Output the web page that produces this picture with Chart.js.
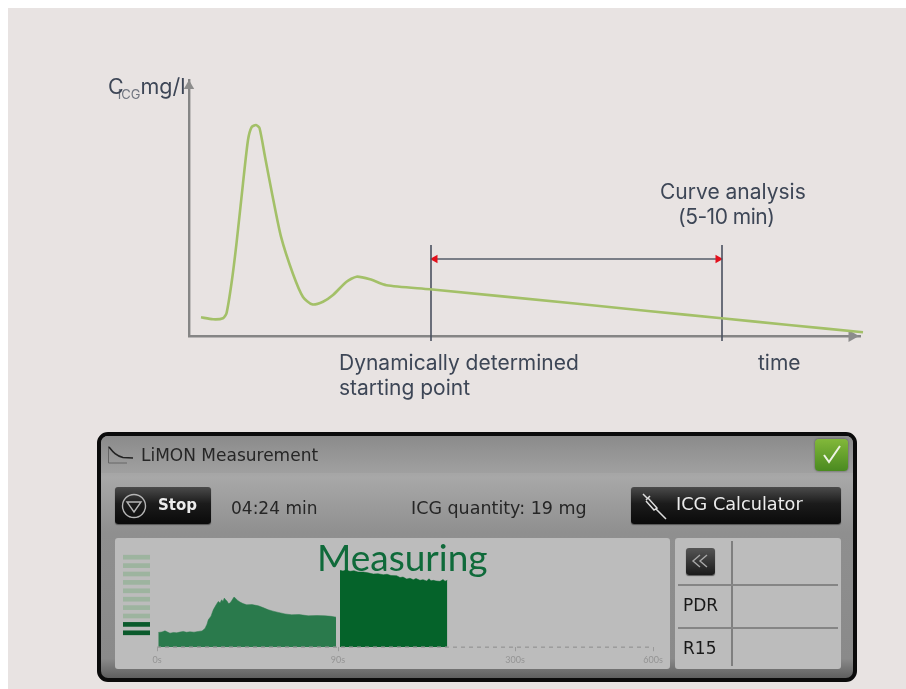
<!DOCTYPE html>
<html>
<head>
<meta charset="utf-8">
<title>LiMON curve</title>
<script src="https://cdn.jsdelivr.net/npm/chart.js@4/dist/chart.umd.min.js"></script>
<style>
html, body { margin: 0; padding: 0; background: #fff; }
#page { position: absolute; left: 0; top: 0; width: 906px; height: 689px; overflow: hidden; }
#bg { position: absolute; left: 8px; top: 8px; right: 0; bottom: 0; background: #e8e3e2; }
canvas { position: absolute; }
.t { position: absolute; white-space: nowrap; line-height: 1; filter: blur(0.3px); }
.top { font-family: Inter, sans-serif; color: #3d4656; font-size: 21px; }
.ui { font-family: "DejaVu Sans", sans-serif; color: #262626; font-size: 17px; }
.box { position: absolute; box-sizing: border-box; }
#frame { left: 97px; top: 432px; width: 760px; height: 250px; border: 4px solid #0b0b0b; border-radius: 11px;
  background: linear-gradient(#a6a6a6 16%, #a8a8a8 17%, #8f8f8f 40%, #8a8a8a 92%, #5f5f5f); }
#head { left: 101px; top: 436px; width: 752px; height: 37px; border-radius: 7px 7px 0 0;
  background: linear-gradient(#8b8b8b, #a0a0a0); }
.btn { border-radius: 3px; background: linear-gradient(#4b4b4b, #1b1b1b 45%, #0a0a0a); color: #ececec; box-shadow: 0 1px 1px #555; }
.panel { background: #bcbcbc; border-radius: 3px; }
</style>
</head>
<body>
<div id="page">
  <div id="bg"></div>

  <canvas id="curveChart" width="906" height="425" style="left:0;top:0"></canvas>
  <div class="t top" style="left:108px;top:76px;font-size:21.5px">C<sub style="font-size:13px;line-height:0;margin-left:-6px;opacity:.7">ICG</sub>mg/l</div>
  <div class="t top" style="left:660px;top:181px">Curve analysis</div>
  <div class="t top" style="left:678px;top:206px;letter-spacing:-0.5px">(5-10 min)</div>
  <div class="t top" style="left:339px;top:352px">Dynamically determined</div>
  <div class="t top" style="left:339px;top:377px">starting point</div>
  <div class="t top" style="left:758px;top:352px">time</div>

  <div class="box" id="frame"></div>
  <div class="box" id="head"></div>
  <svg class="box" style="left:107px;top:445px" width="28" height="20" fill="none" stroke="#222">
    <path d="M1.5 1V18H20" stroke="#666"/>
    <path d="M2 2 C6 7 9 11 16 12.5 L26 13" stroke-width="1.6"/>
  </svg>
  <div class="t ui" style="left:141px;top:447px">LiMON Measurement</div>
  <div class="box" style="left:815px;top:439px;width:33px;height:32px;border-radius:4px;background:linear-gradient(#82b83a,#4a8a20);box-shadow:0 0 2px #444"></div>
  <svg class="box" style="left:815px;top:439px" width="33" height="32" fill="none"><path d="M9 16 L14 23 L25 7" stroke="#eef3e4" stroke-width="2"/></svg>

  <div class="box btn" style="left:115px;top:487px;width:96px;height:37px"></div>
  <svg class="box" style="left:119px;top:491px" width="30" height="30" fill="none" stroke="#b5b5b5" stroke-width="1.4">
    <circle cx="15" cy="15" r="11.5"/><path d="M8 11 H22 L15 21 Z"/>
  </svg>
  <div class="t ui" style="left:158px;top:498px;color:#ececec;font-weight:bold;font-size:15px">Stop</div>
  <div class="t ui" style="left:231px;top:500px">04:24 min</div>
  <div class="t ui" style="left:411px;top:500px;font-size:17.5px">ICG quantity: 19 mg</div>
  <div class="box btn" style="left:631px;top:487px;width:210px;height:37px"></div>
  <svg class="box" style="left:640px;top:492px" width="28" height="28" fill="none" stroke="#ddd">
    <path d="M3 2 L8 7 M6 8 L10 4 M8 6 L17 16 L14 18 L6 9 M16 17 L26 27" stroke-width="1.5"/>
  </svg>
  <div class="t ui" style="left:676px;top:496px;color:#ececec;font-size:17.7px">ICG Calculator</div>

  <div class="box panel" style="left:115px;top:538px;width:555px;height:131px"></div>
  <div class="t" style="left:317px;top:538px;font-family:Lato,sans-serif;font-size:37px;color:#0f6a3a">Measuring</div>
  <canvas id="levelChart" width="27" height="84" style="left:123px;top:553px"></canvas>
  <canvas id="measureChart" width="555" height="131" style="left:115px;top:538px"></canvas>

  <div class="box panel" style="left:675px;top:538px;width:166px;height:131px"></div>
  <div class="box" style="left:731px;top:541px;width:2px;height:125px;background:#7f7f7f"></div>
  <div class="box" style="left:678px;top:584px;width:160px;height:2px;background:#858585"></div>
  <div class="box" style="left:678px;top:627px;width:160px;height:2px;background:#858585"></div>
  <div class="box btn" style="left:686px;top:548px;width:29px;height:27px;background:linear-gradient(#555,#1a1a1a)"></div>
  <svg class="box" style="left:686px;top:548px" width="29" height="27" fill="none" stroke="#a8a8a8" stroke-width="1.4">
    <path d="M14 7 L7 13 L14 19 M21 7 L14 13 L21 19"/>
  </svg>
  <div class="t ui" style="left:683px;top:597px;color:#1a1a1a">PDR</div>
  <div class="t ui" style="left:683px;top:640px;color:#1a1a1a">R15</div>
</div>

<script>
// indocyanine green curve, x and y in the picture's own units
const curveX = [12, 24, 34, 37.5, 42.5, 47.5, 54, 59, 62.5, 67, 70.5, 76, 83, 92, 104, 114, 123, 134, 144, 157.5, 167.5, 181, 197.5, 241, 386, 459, 532.7, 600, 674];
const curveY = [18.7, 16.7, 17.7, 22.7, 52.7, 92.7, 152.7, 196, 208.7, 211, 208, 179.3, 142.7, 99.3, 62, 39, 31.7, 34.3, 41, 54.3, 59.3, 56.7, 50.7, 46.7, 32.5, 25, 17.7, 11, 3.7];
const startX = [242, 242];
const endX = [533, 533];
const markerY = [-5, 91];
const rangeX = [246, 529];
const rangeY = [77, 77];
const axisEndX = [663];
const axisEndY = [0];
const axisTopX = [0];
const axisTopY = [250];

// LiMON screen: first 90 s and the measuring part after it
const tickPos = [0, 181, 358, 496];
const tickLabels = ['0s', '90s', '300s', '600s'];
const calibX = [1.3, 5, 8, 11, 13, 16.5, 19.7, 23, 26.3, 29.5, 33, 37, 41.3, 45, 48, 50, 51.3, 54, 56.3, 59, 61.3, 63, 64.7, 66, 67.3, 69, 70, 71.5, 73, 74.5, 75.7, 77, 78.7, 81, 83, 86, 89.7, 95, 101.3, 106, 111.3, 116, 121.3, 128, 134.7, 142, 151.3, 160, 168, 174, 179];
const calibY = [14.7, 15.2, 16.3, 14.8, 14, 14.7, 14.3, 15.1, 15.7, 14.9, 15.3, 15, 15.7, 16.2, 18.7, 23, 27.3, 31, 37.3, 42, 45.7, 44.2, 47.3, 45.5, 49, 46.8, 46, 43.5, 44, 46, 48, 50, 48.7, 46.3, 45, 43.5, 42.3, 42.5, 41.3, 39.5, 37.3, 36, 34.7, 33.2, 32.3, 32.6, 31.3, 31.6, 31.3, 30.8, 30];
const measureX = [183, 186, 189, 193, 197, 201, 206.3, 211, 216.3, 221, 226.3, 230, 234, 239.7, 243, 246, 249.7, 253, 256.3, 259, 263, 266, 269.7, 272, 274, 276.3, 279, 283, 286, 288, 290.3];
const measureY = [76.7, 76, 77, 75.7, 76.3, 75, 75, 74.2, 73, 73.3, 72.3, 72.8, 71.5, 71.3, 69.5, 70, 68, 68.8, 67.3, 68.5, 66.7, 67.4, 66, 68.3, 66.2, 66.7, 66.1, 65.7, 67.5, 65.9, 66.7];
const dashX = [0, 496];
const dashY = [0, 0];
const levels = [1, 1, 1, 1, 1, 1, 1, 1, 1, 1];
const levelsOn = 2;

const toPoints = (xs, ys) => xs.map((x, i) => ({ x: x, y: ys[i] }));

new Chart(document.getElementById('curveChart'), {
  type: 'scatter',
  data: {
    datasets: [
      { data: toPoints(curveX, curveY), showLine: true, borderColor: '#a3c068', borderWidth: 2.6, pointRadius: 0, tension: 0.22, clip: false },
      { data: toPoints(startX, markerY), showLine: true, borderColor: '#4a5160', borderWidth: 1.6, pointRadius: 0, clip: false },
      { data: toPoints(endX, markerY), showLine: true, borderColor: '#4a5160', borderWidth: 1.6, pointRadius: 0, clip: false },
      { data: toPoints(rangeX, rangeY), showLine: true, borderColor: '#565c68', borderWidth: 1.6, pointRadius: 5, pointStyle: 'triangle',
        pointRotation: [-90, 90], pointBackgroundColor: '#e3101c', pointBorderWidth: 0, clip: false },
      { data: toPoints(axisEndX, axisEndY), pointRadius: 7, pointStyle: 'triangle', pointRotation: 90, pointBackgroundColor: '#8c8c8c', pointBorderWidth: 0, clip: false },
      { data: toPoints(axisTopX, axisTopY), pointRadius: 6, pointStyle: 'triangle', pointBackgroundColor: '#8c8c8c', pointBorderWidth: 0, clip: false }
    ]
  },
  options: {
    responsive: false,
    animation: false,
    layout: { padding: { left: 189, right: 46, top: 80, bottom: 89 } },
    plugins: { legend: { display: false }, tooltip: { enabled: false } },
    scales: {
      x: { type: 'linear', min: 0, max: 671, ticks: { display: false, padding: 0 }, grid: { display: false, tickLength: 0 }, border: { color: '#858585', width: 2.4 } },
      y: { type: 'linear', min: 0, max: 256, ticks: { display: false, padding: 0 }, grid: { display: false, tickLength: 0 }, border: { color: '#858585', width: 2.4 } }
    }
  }
});

new Chart(document.getElementById('levelChart'), {
  type: 'bar',
  data: {
    labels: levels.map((el, i) => i + 1),
    datasets: [{
      data: levels,
      backgroundColor: levels.map((el, i) => i >= levels.length - levelsOn ? '#0b5a2c' : '#9db49f'),
      barThickness: 4,
      borderWidth: 0
    }]
  },
  options: {
    indexAxis: 'y',
    responsive: false,
    animation: false,
    plugins: { legend: { display: false }, tooltip: { enabled: false } },
    scales: {
      x: { display: false, min: 0, max: 1 },
      y: { display: false }
    }
  }
});

new Chart(document.getElementById('measureChart'), {
  type: 'scatter',
  data: {
    datasets: [
      { data: toPoints(dashX, dashY), showLine: true, borderColor: '#9c9c9c', borderWidth: 1.5, borderDash: [4, 4], pointRadius: 0, clip: false },
      { data: toPoints(calibX, calibY), showLine: true, fill: 'origin', backgroundColor: '#2a7a4c', borderColor: '#2a7a4c', borderWidth: 0.5, pointRadius: 0 },
      { data: toPoints(measureX, measureY), showLine: true, fill: 'origin', backgroundColor: '#05632a', borderColor: '#05632a', borderWidth: 0.5, pointRadius: 0 }
    ]
  },
  options: {
    responsive: false,
    animation: false,
    layout: { padding: { left: 42, right: 17, top: 10, bottom: 1 } },
    plugins: { legend: { display: false }, tooltip: { enabled: false } },
    scales: {
      x: {
        type: 'linear',
        min: 0,
        max: 496,
        afterBuildTicks: axis => { axis.ticks = tickPos.map(v => ({ value: v })); },
        ticks: {
          autoSkip: false,
          maxRotation: 0,
          padding: 3,
          color: '#949494',
          font: { family: 'Lato', size: 9 },
          callback: v => tickLabels[tickPos.indexOf(v)]
        },
        grid: { drawOnChartArea: false, tickLength: 4, color: '#9a9a9a' },
        border: { display: false }
      },
      y: { type: 'linear', min: 0, max: 99, display: false }
    }
  }
});
</script>
</body>
</html>
